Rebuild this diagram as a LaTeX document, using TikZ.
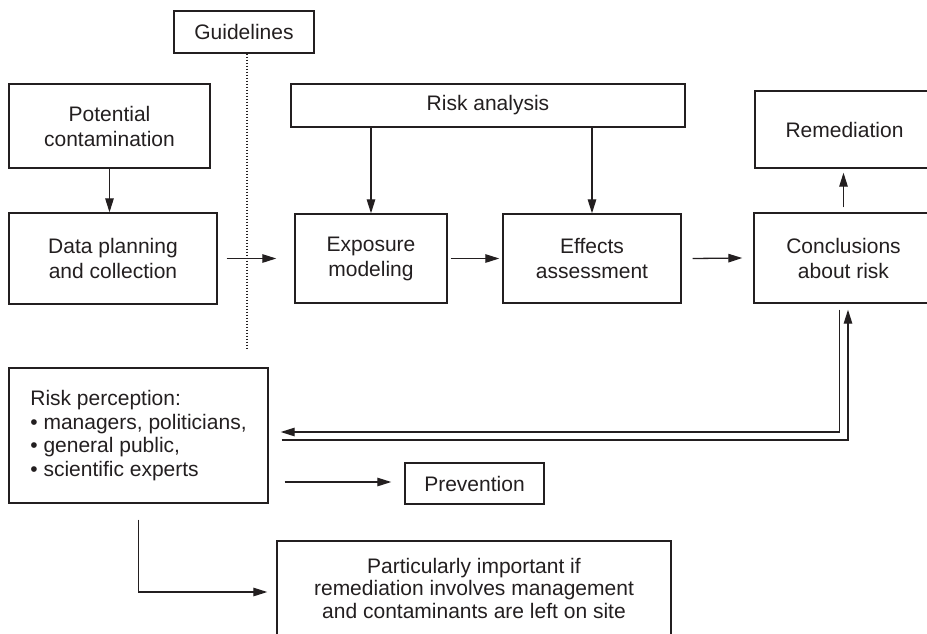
\documentclass[tikz,border=0pt]{standalone}
\usepackage{fontspec}
\setmainfont{Liberation Sans}
\usetikzlibrary{arrows.meta,calc}
\definecolor{ink}{RGB}{35,31,32}
\begin{document}
\begin{tikzpicture}[x=1pt,y=-1pt,
  box/.style={draw=ink, line width=1.4pt, rectangle, inner sep=0pt, align=center, text=ink,
              font=\fontsize{21}{25}\selectfont},
  arr/.style={draw=ink, line width=1.3pt, -{Triangle[length=14pt,width=8.5pt]}},
  guideline/.style={draw=ink, line width=1.8pt, dash pattern=on 1.4pt off 1.6pt}]
\useasboundingbox (0,0) rectangle (927,633);
\clip (0,0) rectangle (927,633);
\fill[white] (0,0) rectangle (927,633);

\node[box, minimum width=140, minimum height=42] (guide) at (244,32) {Guidelines};
\node[box, minimum width=201, minimum height=84] (pot) at (109.5,126) {Potential\\contamination};
\node[box, minimum width=208, minimum height=91] (data) at (113,258.5) {Data planning\\and collection};
\node[box, minimum width=394, minimum height=43] (risk) at (488,105.5) {Risk analysis};
\node[box, minimum width=152, minimum height=89] (expo) at (371,258.5) {Exposure\\modeling};
\node[box, minimum width=178, minimum height=89] (eff) at (592,258.5) {Effects\\assessment};
\node[box, minimum width=179, minimum height=90] (concl) at (843.5,258) {Conclusions\\about risk};
\node[box, minimum width=179, minimum height=77] (remed) at (844.5,129.5) {Remediation};
\node[box, align=left, minimum width=259, minimum height=135,
      font=\fontsize{21}{23.7}\selectfont] (perc) at (138.5,435.5)
  {Risk perception:\\• managers, politicians,\\• general public,\\• scientific experts};
\node[box, minimum width=139, minimum height=41] (prev) at (474.5,483.5) {Prevention};
\node[box, minimum width=394, minimum height=94, font=\fontsize{21}{22.5}\selectfont] (part) at (474,588)
  {Particularly important if\\remediation involves management\\and contaminants are left on site};

% guidelines dotted line
\draw[guideline] ([xshift=3pt]guide.south) -- ++(0,295);

% arrows
\draw[arr] (pot.south) -- (pot.south |- data.north);
\draw[arr] ($(data.east)+(9,0)$) -- ($(expo.west)+(-18,0)$);
\draw[arr] (expo.north |- risk.south) -- (expo.north);
\draw[arr] (eff.north |- risk.south) -- (eff.north);
\draw[arr] ($(expo.east)+(3,0)$) -- ($(eff.west)+(-3,0)$);
\draw[arr] ($(eff.east)+(11,0)$) -- ($(concl.west)+(-11,0)$);
\draw[arr] ($(concl.north)+(0,-5)$) -- ($(concl.north |- remed.south)+(0,4)$);

% feedback double line
\draw[arr] ($(concl.south)+(-4,6)$) |- ($(perc.east)+(12,-3.5)$);
\draw[arr] ($(perc.east)+(13,4.5)$) -| ($(concl.south)+(4.5,6)$);

% risk perception outputs
\draw[arr] ($(perc.east |- prev.west)+(16,-1.5)$) -- ($(prev.west)+(-13,-1.5)$);
\draw[arr] ($(perc.south)+(0,16)$) |- ($(part.west)+(-9,4)$);
\end{tikzpicture}
\end{document}
